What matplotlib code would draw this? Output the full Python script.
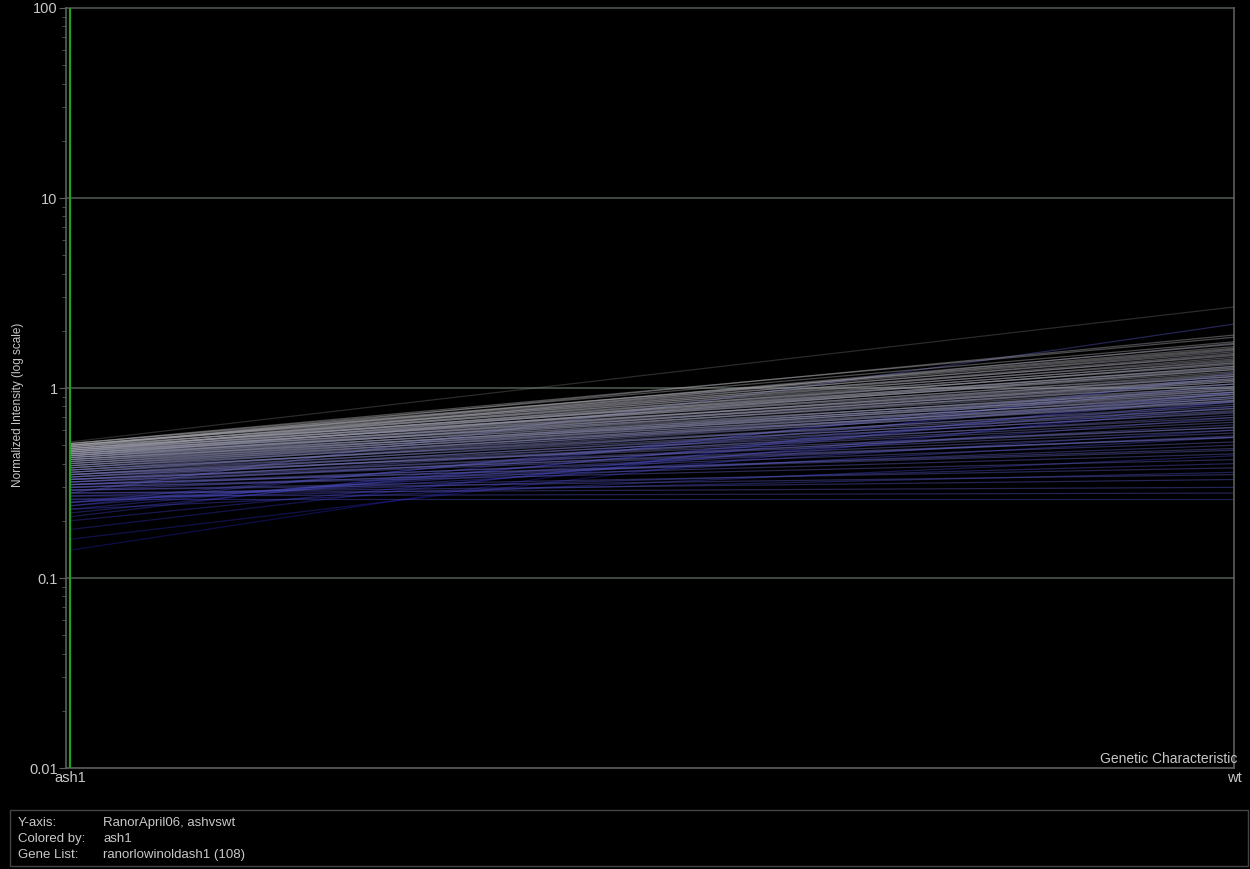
import numpy as np
import matplotlib.pyplot as plt
from matplotlib.colors import LinearSegmentedColormap
from matplotlib.patches import Rectangle

plt.rcParams['font.family'] = ['Liberation Sans', 'DejaVu Sans']

conditions = ['ash1', 'wt']

# normalized intensity per gene (108 genes)
ash1 = [
    0.52, 0.51, 0.51, 0.50, 0.50, 0.50, 0.50, 0.49, 0.49, 0.49, 0.48, 0.48,
    0.48, 0.48, 0.47, 0.47, 0.47, 0.47, 0.46, 0.46, 0.46, 0.46, 0.45, 0.45,
    0.45, 0.45, 0.44, 0.44, 0.44, 0.44, 0.43, 0.43, 0.43, 0.42, 0.42, 0.42,
    0.42, 0.41, 0.41, 0.41, 0.40, 0.40, 0.40, 0.39, 0.39, 0.39, 0.38, 0.38,
    0.38, 0.37, 0.37, 0.37, 0.36, 0.36, 0.36, 0.35, 0.35, 0.35, 0.34, 0.34,
    0.34, 0.33, 0.33, 0.33, 0.32, 0.32, 0.32, 0.31, 0.31, 0.31, 0.30, 0.30,
    0.30, 0.29, 0.29, 0.29, 0.28, 0.28, 0.28, 0.27, 0.27, 0.26, 0.26, 0.25,
    0.25, 0.25, 0.24, 0.24, 0.23, 0.23, 0.22, 0.21, 0.20, 0.18, 0.16, 0.14,
    0.51, 0.50, 0.49, 0.48, 0.47, 0.46, 0.45, 0.44, 0.43, 0.35, 0.33, 0.31,
]
wt = [
    2.67, 1.75, 1.62, 1.55, 1.48, 1.42, 1.60, 1.38, 1.33, 1.70, 1.28, 1.25,
    1.52, 1.22, 1.18, 1.45, 1.35, 1.15, 1.12, 1.30, 1.40, 1.10, 1.08, 1.25,
    1.20, 1.05, 1.02, 1.15, 0.98, 1.30, 1.10, 0.95, 1.05, 1.00, 0.93, 1.12,
    0.90, 1.08, 0.97, 0.88, 1.02, 0.95, 0.86, 1.00, 0.92, 0.85, 0.98, 0.88,
    0.84, 0.93, 0.80, 0.78, 0.90, 0.76, 0.86, 0.74, 0.82, 0.70, 0.78, 0.68,
    0.66, 0.75, 0.62, 0.60, 0.72, 0.58, 0.55, 0.64, 0.52, 0.48, 0.56, 0.45,
    0.42, 0.50, 0.38, 0.35, 2.17, 0.33, 0.30, 0.40, 0.28, 0.36, 0.26, 0.55,
    0.60, 0.95, 0.70, 1.05, 0.44, 0.85, 0.90, 1.15, 0.80, 0.95, 0.85, 1.20,
    1.85, 1.65, 1.90, 1.58, 1.50, 1.72, 1.36, 1.27, 1.17, 0.62, 0.55, 0.47,
]

info_keys = ['Y-axis:', 'Colored by:', 'Gene List:']
info_vals = ['RanorApril06, ashvswt', 'ash1', 'ranorlowinoldash1 (108)']

txt = '#c8c8c8'
grid = '#4c544c'
axis_col = '#5a5f5a'

fig = plt.figure(figsize=(12.5, 8.69), dpi=100, facecolor='black')
ax = fig.add_axes([0.0528, 0.1162, 0.9344, 0.8746], facecolor='black')

# colour each gene by its ash1 value: blue (low) -> grey (high)
cmap = LinearSegmentedColormap.from_list('ash', ['#1e1ea0', '#4a4ab8', '#8888b0', '#a8a8a8'])
lo, hi = min(ash1), max(ash1)
order = np.argsort(ash1)
for i in order:
    c = cmap((ash1[i] - lo) / (hi - lo))
    a = 0.25 if wt[i] > 2.5 else 0.45
    ax.plot([0, 1], [ash1[i], wt[i]], color=c, lw=0.9, alpha=a, zorder=3)

ax.set_yscale('log')
ax.set_ylim(0.01, 100)
ax.set_xlim(-0.0035, 1)

for v in [0.1, 1, 10, 100]:
    ax.axhline(v, color=grid, lw=1.2, zorder=1, clip_on=False)
ax.axvline(0, color='#22a022', lw=1.6, zorder=4)

ax.spines['top'].set_visible(False)
for s in ['left', 'bottom', 'right']:
    ax.spines[s].set_color(axis_col)
    ax.spines[s].set_linewidth(1.2)

ax.set_yticks([0.01, 0.1, 1, 10, 100])
ax.set_yticklabels(['0.01', '0.1', '1', '10', '100'])
ax.tick_params(axis='y', which='major', colors=axis_col, length=5, labelcolor=txt,
               labelsize=10.5, pad=1)
ax.tick_params(axis='y', which='minor', colors=axis_col, length=3)
ax.set_xticks([0, 1])
ax.set_xticklabels(conditions)
ax.tick_params(axis='x', length=0, labelcolor=txt, labelsize=10.5, pad=2)

fig.text(18 / 1250, 1 - 405 / 869, 'Normalized Intensity (log scale)', color=txt,
         fontsize=8.5, rotation=90, ha='center', va='center')
ax.text(1.003, 0.0103, 'Genetic Characteristic', color=txt, fontsize=10,
        ha='right', va='bottom')

# info box
fig.patches.append(Rectangle((10 / 1250, 1 - 866 / 869), 1238 / 1250, 56 / 869,
                             transform=fig.transFigure, fill=False,
                             edgecolor='#444444', lw=1.0))
for k, (key, val) in enumerate(zip(info_keys, info_vals)):
    y = 1 - (823 + 16 * k) / 869
    fig.text(18 / 1250, y, key, color=txt, fontsize=9.5, va='center')
    fig.text(103 / 1250, y, val, color=txt, fontsize=9.5, va='center')

fig.savefig('out.png', dpi=100, facecolor='black')
